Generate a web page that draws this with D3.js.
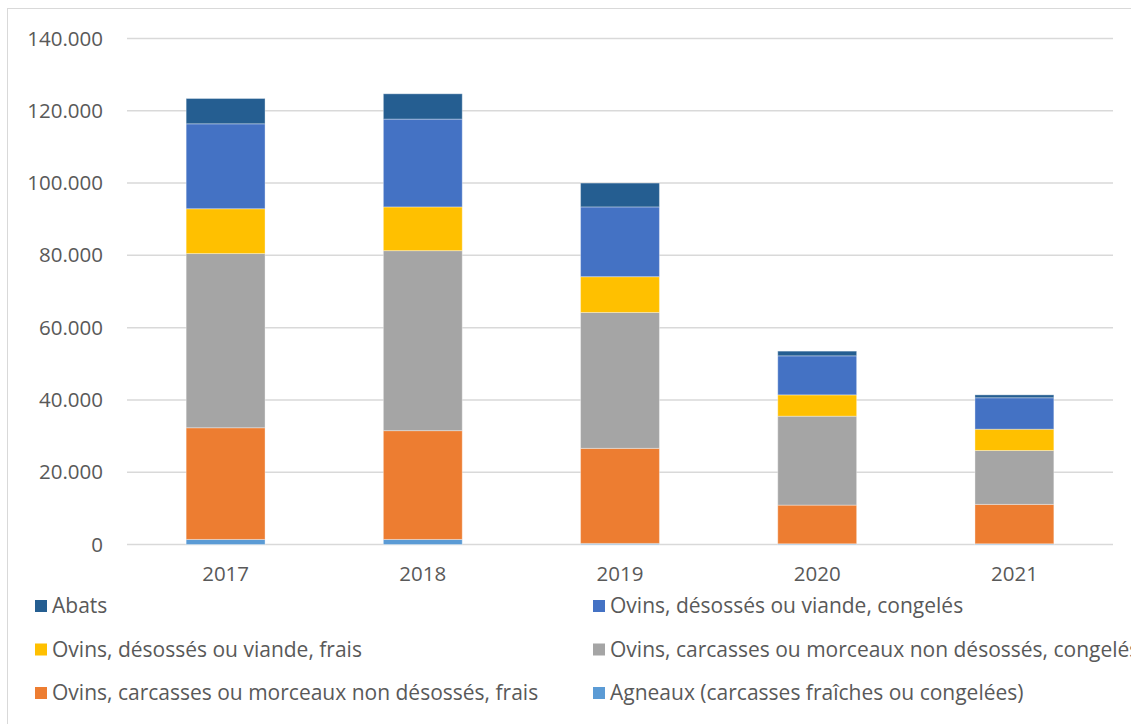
<!DOCTYPE html>
<html>
<head>
<meta charset="utf-8">
<script src="https://cdn.jsdelivr.net/npm/d3@7"></script>
<style>
  body { margin: 0; background: #fff; }
  svg text { font-family: "Open Sans", "Liberation Sans", Arial, sans-serif; }
</style>
</head>
<body>
<svg id="chart" width="1131" height="724"></svg>
<script>
// years on the x axis
var years = ["2017", "2018", "2019", "2020", "2021"];

// series, bottom to top in the stack
var agneaux = [1400, 1400, 300, 200, 200];
var ovinsCarcFrais = [30900, 30100, 26300, 10700, 10900];
var ovinsCarcCong = [48200, 49800, 37600, 24600, 14900];
var ovinsDesFrais = [12400, 12100, 9900, 5900, 5900];
var ovinsDesCong = [23500, 24300, 19300, 10800, 8700];
var abats = [7000, 7000, 6600, 1300, 800];

var yTicks = [0, 20000, 40000, 60000, 80000, 100000, 120000, 140000];

var seriesNames = ["Agneaux (carcasses fraîches ou congelées)",
  "Ovins, carcasses ou morceaux non désossés, frais",
  "Ovins, carcasses ou morceaux non désossés, congelés",
  "Ovins, désossés ou viande, frais",
  "Ovins, désossés ou viande, congelés",
  "Abats"];
var seriesValues = [agneaux, ovinsCarcFrais, ovinsCarcCong, ovinsDesFrais, ovinsDesCong, abats];
var colors = ["#5B9BD5", "#ED7D31", "#A5A5A5", "#FFC000", "#4472C4", "#255E91"];

// legend order as shown in picture (two columns, three rows)
var legendOrder = [5, 4, 3, 2, 1, 0];

var svg = d3.select("#chart");
var plotLeft = 127, plotRight = 1113, plotTop = 38.5, plotBottom = 544.5;

// chart frame
svg.append("rect")
  .attr("x", 7.5).attr("y", 8.5)
  .attr("width", 1200).attr("height", 800)
  .attr("fill", "none").attr("stroke", "#D9D9D9").attr("stroke-width", 1);

var x = d3.scaleBand().domain(years).range([plotLeft, plotRight]).paddingInner(0.6).paddingOuter(0.3);
var y = d3.scaleLinear().domain([0, 140000]).range([plotBottom, plotTop]);

var fr = d3.formatLocale({decimal: ",", thousands: ".", grouping: [3], currency: ["", "€"]});
var fmt = fr.format(",");

// gridlines
svg.append("g").selectAll("line")
  .data(yTicks)
  .enter().append("line")
  .attr("x1", plotLeft).attr("x2", plotRight)
  .attr("y1", function(d) { return y(d); })
  .attr("y2", function(d) { return y(d); })
  .attr("stroke", "#D9D9D9").attr("stroke-width", 1.5);

// y axis labels
var yAxis = d3.axisLeft(y).tickValues(yTicks).tickFormat(fmt).tickSize(0).tickPadding(0);
var gy = svg.append("g").attr("transform", "translate(103,0)").call(yAxis);
gy.select(".domain").remove();
gy.selectAll("text").attr("font-size", 20.5).attr("fill", "#595959")
  .attr("font-family", "Open Sans, Liberation Sans, Arial, sans-serif");

// x axis labels
var xAxis = d3.axisBottom(x).tickSize(0).tickPadding(0);
var gx = svg.append("g").attr("transform", "translate(0,566)").call(xAxis);
gx.select(".domain").remove();
gx.selectAll("text").attr("font-size", 20.5).attr("fill", "#595959")
  .attr("font-family", "Open Sans, Liberation Sans, Arial, sans-serif");

// stacked data
var table = years.map(function(yr, i) {
  var row = {year: yr};
  seriesNames.forEach(function(n, k) { row[n] = seriesValues[k][i]; });
  return row;
});
var stacked = d3.stack().keys(seriesNames)(table);

svg.append("g").selectAll("g")
  .data(stacked)
  .enter().append("g")
  .attr("fill", function(d, i) { return colors[i]; })
  .selectAll("rect")
  .data(function(d) { return d; })
  .enter().append("rect")
  .attr("x", function(d) { return x(d.data.year); })
  .attr("width", x.bandwidth())
  .attr("y", function(d) { return y(d[1]); })
  .attr("height", function(d) { return y(d[0]) - y(d[1]); })
  .attr("stroke", "#ffffff").attr("stroke-opacity", 0.35).attr("stroke-width", 1);

// legend
var legend = svg.append("g").selectAll("g")
  .data(legendOrder)
  .enter().append("g")
  .attr("transform", function(d, i) {
    var col = i % 2, row = Math.floor(i / 2);
    return "translate(" + (col === 0 ? 35 : 593) + "," + (606 + row * 43.5) + ")";
  });

legend.append("rect")
  .attr("x", 0).attr("y", -6)
  .attr("width", 12).attr("height", 12)
  .attr("fill", function(d) { return colors[d]; });

legend.append("text")
  .attr("x", 17).attr("y", 0).attr("dy", "0.35em")
  .attr("font-size", 21).attr("fill", "#595959")
  .text(function(d) { return seriesNames[d]; });
</script>
</body>
</html>
